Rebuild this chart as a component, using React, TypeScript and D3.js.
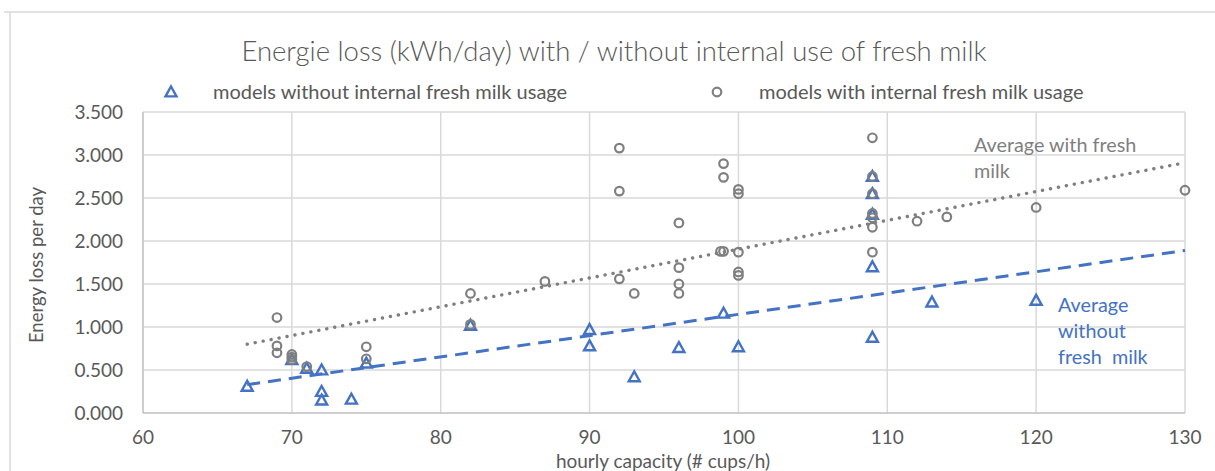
import React from "react";
import * as d3 from "d3";

const withoutX = [67, 70, 71, 72, 72, 72, 74, 75, 82, 90, 90, 93, 96, 99, 100, 109, 109, 109, 109, 109, 113, 120];
const withoutY = [0.31, 0.62, 0.52, 0.5, 0.25, 0.15, 0.16, 0.58, 1.02, 0.97, 0.78, 0.42, 0.76, 1.16, 0.77, 2.75, 2.55, 2.31, 1.7, 0.88, 1.29, 1.31];

const withX = [69, 69, 69, 70, 70, 70, 71, 75, 75, 82, 82, 87, 92, 92, 92, 93, 96, 96, 96, 96, 98.8, 99, 99, 99, 100, 100, 100, 100, 100, 109, 109, 109, 109, 109, 109, 109, 112, 114, 120, 130];
const withY = [1.11, 0.78, 0.7, 0.68, 0.65, 0.62, 0.54, 0.77, 0.63, 1.39, 1.03, 1.53, 3.08, 2.58, 1.56, 1.39, 2.21, 1.69, 1.5, 1.39, 1.88, 2.9, 2.74, 1.88, 2.6, 2.55, 1.87, 1.64, 1.6, 3.2, 2.75, 2.55, 2.32, 2.27, 2.16, 1.87, 2.23, 2.28, 2.39, 2.59];

const trendX = [67, 130];
const trendWithY = [0.8, 2.91];
const trendWithoutY = [0.33, 1.89];

const xTicks = [60, 70, 80, 90, 100, 110, 120, 130];
const yTicks = [0, 0.5, 1, 1.5, 2, 2.5, 3, 3.5];

const title = "Energie loss (kWh/day) with / without internal use of fresh milk";
const legendWithout = "models without internal fresh milk usage";
const legendWith = "models with internal fresh milk usage";
const xTitle = "hourly capacity (# cups/h)";
const yTitle = "Energy loss per day";
const labelWith = ["Average with fresh", "milk"];
const labelWithout = ["Average", "without", "fresh  milk"];

const BLUE = "#4472C4";
const GRAY = "#7F7F7F";
const TEXT = "#595959";
const GRID = "#D9D9D9";
const FONT = "Lato, 'Open Sans', sans-serif";

function Triangle({ x, y }: { x: number; y: number }) {
  const s = 5.5;
  return (
    <path
      d={`M${x},${y - s}L${x + s},${y + s * 0.8}L${x - s},${y + s * 0.8}Z`}
      fill="none"
      stroke={BLUE}
      strokeWidth={2.4}
      strokeLinejoin="miter"
    />
  );
}

function Circle({ x, y }: { x: number; y: number }) {
  return <circle cx={x} cy={y} r={4.3} fill="none" stroke={GRAY} strokeWidth={2.2} />;
}

export default function App() {
  const x = d3.scaleLinear().domain([60, 130]).range([143, 1185]);
  const y = d3.scaleLinear().domain([0, 3.5]).range([413, 112]);
  const fmt = d3.format(".3f");
  const line = d3
    .line<number>()
    .x((_, i) => x(trendX[i]))
    .y((d) => y(d));

  return (
    <svg
      width={1215}
      height={471}
      style={{ position: "absolute", left: 0, top: 0, background: "#fff" }}
      fontFamily={FONT}
    >
      <rect x={0} y={0} width={1215} height={471} fill="#fff" />
      {/* chart outer border */}
      <line x1={4} x2={1215} y1={12} y2={12} stroke={GRID} strokeWidth={1.5} />
      <line x1={10} x2={10} y1={12} y2={471} stroke={GRID} strokeWidth={1.5} />

      {/* gridlines */}
      {yTicks.slice(1).map((t) => (
        <line key={"h" + t} x1={x(60)} x2={x(130)} y1={y(t)} y2={y(t)} stroke={GRID} strokeWidth={1.5} />
      ))}
      {xTicks.map((t) => (
        <line key={"v" + t} x1={x(t)} x2={x(t)} y1={y(3.5)} y2={y(0)} stroke={GRID} strokeWidth={1.5} />
      ))}
      <line x1={x(60)} x2={x(130)} y1={y(0)} y2={y(0)} stroke="#BFBFBF" strokeWidth={1.5} />
      <line x1={x(60)} x2={x(60)} y1={y(3.5)} y2={y(0)} stroke="#BFBFBF" strokeWidth={1.2} />

      {/* tick labels */}
      {yTicks.map((t) => (
        <text key={"yt" + t} x={123} y={y(t) + 6.5} textAnchor="end" fontSize={19} fill={TEXT}>
          {fmt(t)}
        </text>
      ))}
      {xTicks.map((t) => (
        <text key={"xt" + t} x={x(t)} y={444} textAnchor="middle" fontSize={19} fill={TEXT}>
          {t}
        </text>
      ))}

      {/* axis titles */}
      <text x={663} y={467.5} textAnchor="middle" fontSize={19} fill={TEXT}>
        {xTitle}
      </text>
      <text
        transform={`translate(43,265) rotate(-90)`}
        textAnchor="middle"
        fontSize={18.5}
        fill={TEXT}
      >
        {yTitle}
      </text>

      {/* title */}
      <text x={614} y={61} textAnchor="middle" fontSize={27.5} fontWeight={300} fill={TEXT}>
        {title}
      </text>

      {/* legend */}
      <Triangle x={171} y={92} />
      <text x={213} y={99} fontSize={20} fill={TEXT}>
        {legendWithout}
      </text>
      <Circle x={717} y={92} />
      <text x={759} y={99} fontSize={20} fill={TEXT}>
        {legendWith}
      </text>

      {/* markers */}
      {withoutX.map((v, i) => (
        <Triangle key={"t" + i} x={x(v)} y={y(withoutY[i])} />
      ))}
      {withX.map((v, i) => (
        <Circle key={"c" + i} x={x(v)} y={y(withY[i])} />
      ))}

      {/* trendlines */}
      <path
        d={line(trendWithY) || ""}
        fill="none"
        stroke={GRAY}
        strokeWidth={3.4}
        strokeLinecap="round"
        strokeDasharray="0.1 8"
      />
      <path
        d={line(trendWithoutY) || ""}
        fill="none"
        stroke={BLUE}
        strokeWidth={3}
        strokeDasharray="13 8"
      />

      {/* trend labels */}
      {labelWith.map((s, i) => (
        <text key={"lw" + i} x={974} y={152 + i * 26} fontSize={19.8} fill={GRAY}>
          {s}
        </text>
      ))}
      {labelWithout.map((s, i) => (
        <text key={"lwo" + i} x={1058} y={312 + i * 26} fontSize={19.8} fill={BLUE} style={{ whiteSpace: "pre" }}>
          {s}
        </text>
      ))}
    </svg>
  );
}
